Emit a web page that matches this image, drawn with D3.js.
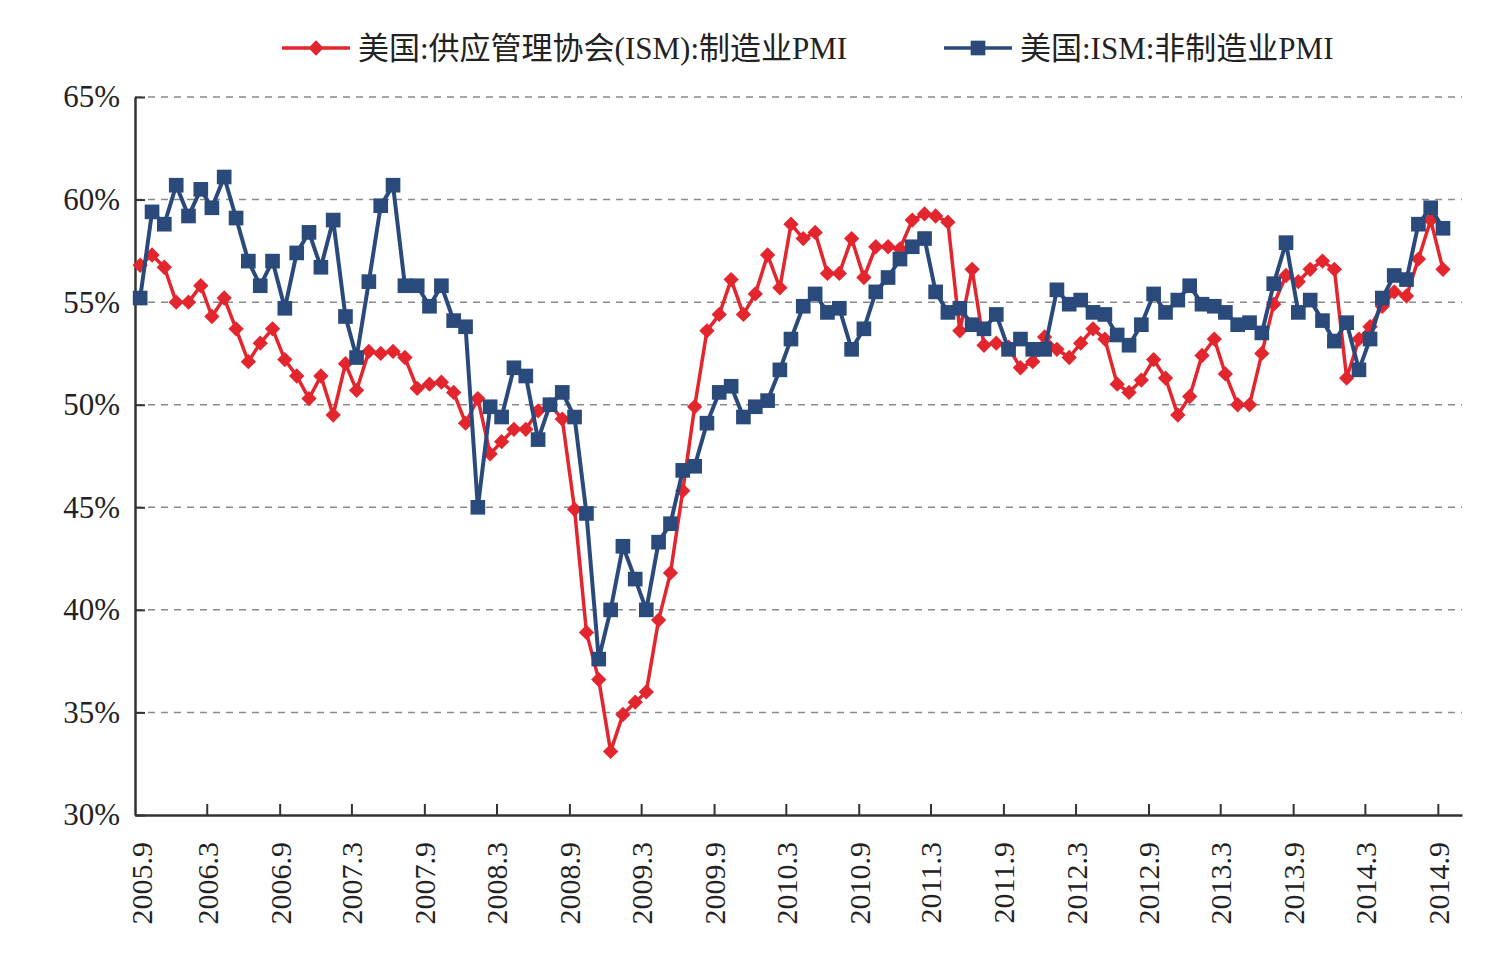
<!DOCTYPE html>
<html>
<head>
<meta charset="utf-8">
<script src="https://cdn.jsdelivr.net/npm/d3@7"></script>
<style>
  body { margin: 0; background: #fff; }
  text { font-family: "Liberation Serif", "Times New Roman", "Noto Sans CJK SC", serif; fill: #222; }
</style>
</head>
<body>
<div id="chart"></div>
<script>
// Data: monthly values from 2005.9 to 2014.9
var startYear = 2005, startMonth = 9;
var seriesNames = ["美国:供应管理协会(ISM):制造业PMI", "美国:ISM:非制造业PMI"];

var mfgPMI = [
  56.8, 57.3, 56.7, 55.0, 55.0, 55.8, 54.3, 55.2, 53.7, 52.1,
  53.0, 53.7, 52.2, 51.4, 50.3, 51.4, 49.5, 52.0, 50.7, 52.6,
  52.5, 52.6, 52.3, 50.8, 51.0, 51.1, 50.6, 49.1, 50.3, 47.6,
  48.2, 48.8, 48.8, 49.7, 50.0, 49.3, 44.9, 38.9, 36.6, 33.1,
  34.9, 35.5, 36.0, 39.5, 41.8, 45.8, 49.9, 53.6, 54.4, 56.1,
  54.4, 55.4, 57.3, 55.7, 58.8, 58.1, 58.4, 56.4, 56.4, 58.1,
  56.2, 57.7, 57.7, 57.6, 59.0, 59.3, 59.2, 58.9, 53.6, 56.6,
  52.9, 53.0, 52.8, 51.8, 52.1, 53.3, 52.7, 52.3, 53.0, 53.7,
  53.2, 51.0, 50.6, 51.2, 52.2, 51.3, 49.5, 50.4, 52.4, 53.2,
  51.5, 50.0, 50.0, 52.5, 54.9, 56.3, 56.0, 56.6, 57.0, 56.6,
  51.3, 53.2, 53.8, 54.8, 55.5, 55.3, 57.1, 59.0, 56.6
];

var nonMfgPMI = [
  55.2, 59.4, 58.8, 60.7, 59.2, 60.5, 59.6, 61.1, 59.1, 57.0,
  55.8, 57.0, 54.7, 57.4, 58.4, 56.7, 59.0, 54.3, 52.3, 56.0,
  59.7, 60.7, 55.8, 55.8, 54.8, 55.8, 54.1, 53.8, 45.0, 49.9,
  49.4, 51.8, 51.4, 48.3, 50.0, 50.6, 49.4, 44.7, 37.6, 40.0,
  43.1, 41.5, 40.0, 43.3, 44.2, 46.8, 47.0, 49.1, 50.6, 50.9,
  49.4, 49.9, 50.2, 51.7, 53.2, 54.8, 55.4, 54.5, 54.7, 52.7,
  53.7, 55.5, 56.2, 57.1, 57.7, 58.1, 55.5, 54.5, 54.7, 53.9,
  53.7, 54.4, 52.7, 53.2, 52.7, 52.7, 55.6, 54.9, 55.1, 54.5,
  54.4, 53.4, 52.9, 53.9, 55.4, 54.5, 55.1, 55.8, 54.9, 54.8,
  54.5, 53.9, 54.0, 53.5, 55.9, 57.9, 54.5, 55.1, 54.1, 53.1,
  54.0, 51.7, 53.2, 55.2, 56.3, 56.1, 58.8, 59.6, 58.6
];

var yTicks = [30, 35, 40, 45, 50, 55, 60, 65];
var xTickLabels = ["2005.9", "2006.3", "2006.9", "2007.3", "2007.9", "2008.3", "2008.9",
  "2009.3", "2009.9", "2010.3", "2010.9", "2011.3", "2011.9", "2012.3", "2012.9",
  "2013.3", "2013.9", "2014.3", "2014.9"];

var colors = ["#e3262e", "#2b4a7c"];

var svgWidth = 1509;
var svgHeight = 964;

var margin = { top: 97, right: 47, bottom: 149, left: 135 };

var width = svgWidth - margin.left - margin.right;
var height = svgHeight - margin.top - margin.bottom;

var svg = d3.select("#chart")
  .append("svg")
  .attr("width", svgWidth)
  .attr("height", svgHeight);

var chartGroup = svg.append("g")
  .attr("transform", `translate(${margin.left}, ${margin.top})`);

// build rows (each point sits a little into its month, like the original)
function pointDate(i) {
  return new Date(startYear, startMonth - 1 + i, 14);
}
var mfgData = mfgPMI.map((v, i) => ({ date: pointDate(i), value: v }));
var nonMfgData = nonMfgPMI.map((v, i) => ({ date: pointDate(i), value: v }));

function parseLabel(s) {
  var p = s.split(".");
  return new Date(+p[0], +p[1] - 1, 1);
}

// scales
var xScale = d3.scaleTime()
  .domain([new Date(2005, 8, 1), new Date(2014, 10, 1)])
  .range([0, width]);

var yScale = d3.scaleLinear()
  .domain([30, 65])
  .range([height, 0]);

// gridlines
chartGroup.append("g")
  .selectAll("line")
  .data(yTicks.slice(1))
  .enter()
  .append("line")
  .attr("x1", 0)
  .attr("x2", width)
  .attr("y1", d => yScale(d))
  .attr("y2", d => yScale(d))
  .attr("stroke", "#8a8a8a")
  .attr("stroke-width", 1.5)
  .attr("stroke-dasharray", "7,6");

// axes
var xAxis = d3.axisBottom(xScale)
  .tickValues(xTickLabels.map(parseLabel))
  .tickSizeInner(-11)
  .tickSizeOuter(0)
  .tickFormat((d, i) => xTickLabels[i]);

var yAxis = d3.axisLeft(yScale)
  .tickValues(yTicks)
  .tickSizeInner(-10)
  .tickSizeOuter(0)
  .tickFormat(d => d + "%");

var xAxisGroup = chartGroup.append("g")
  .attr("transform", `translate(0, ${height})`)
  .call(xAxis);

xAxisGroup.selectAll("text")
  .attr("transform", "rotate(-90)")
  .attr("text-anchor", "end")
  .attr("x", -27)
  .attr("y", 0)
  .attr("dy", "0.35em")
  .attr("font-size", 30)
  .attr("fill", "#222");

// first label is nudged right off the axis corner
xAxisGroup.selectAll(".tick").filter((d, i) => i === 0)
  .select("text")
  .attr("y", 6);

var yAxisGroup = chartGroup.append("g")
  .call(yAxis);

yAxisGroup.selectAll("text")
  .attr("x", -15)
  .attr("font-size", 31)
  .attr("fill", "#222");

chartGroup.selectAll(".domain")
  .attr("stroke", "#333")
  .attr("stroke-width", 2.5);
chartGroup.selectAll(".tick line")
  .attr("stroke", "#333")
  .attr("stroke-width", 2);
xAxisGroup.selectAll(".tick").filter((d, i) => i === 0).select("line").remove();

// lines
var line = d3.line()
  .x(d => xScale(d.date))
  .y(d => yScale(d.value));

var diamond = d3.symbol().type(d3.symbolDiamond2).size(150);
var square = d3.symbol().type(d3.symbolSquare).size(215);

function drawSeries(data, color, symbol, lineWidth) {
  var g = chartGroup.append("g");
  g.append("path")
    .datum(data)
    .attr("d", line)
    .attr("fill", "none")
    .attr("stroke", color)
    .attr("stroke-width", lineWidth)
    .attr("stroke-linejoin", "round");
  g.selectAll("path.marker")
    .data(data)
    .enter()
    .append("path")
    .attr("class", "marker")
    .attr("d", symbol)
    .attr("transform", d => `translate(${xScale(d.date)}, ${yScale(d.value)})`)
    .attr("fill", color);
}

drawSeries(mfgData, colors[0], diamond, 3.5);
drawSeries(nonMfgData, colors[1], square, 4);

// legend
var legendItems = [
  { name: seriesNames[0], color: colors[0], symbol: diamond, x: 282 },
  { name: seriesNames[1], color: colors[1], symbol: square, x: 944 }
];

var legend = svg.selectAll(".legend")
  .data(legendItems)
  .enter()
  .append("g")
  .attr("class", "legend")
  .attr("transform", d => `translate(${d.x}, 48)`);

legend.append("line")
  .attr("x1", 0)
  .attr("x2", 68)
  .attr("stroke", d => d.color)
  .attr("stroke-width", 3.5);

legend.append("path")
  .attr("d", d => d.symbol())
  .attr("transform", "translate(34, 0)")
  .attr("fill", d => d.color);

legend.append("text")
  .attr("x", 76)
  .attr("dy", "0.35em")
  .attr("font-size", 31)
  .text(d => d.name);
</script>
</body>
</html>
